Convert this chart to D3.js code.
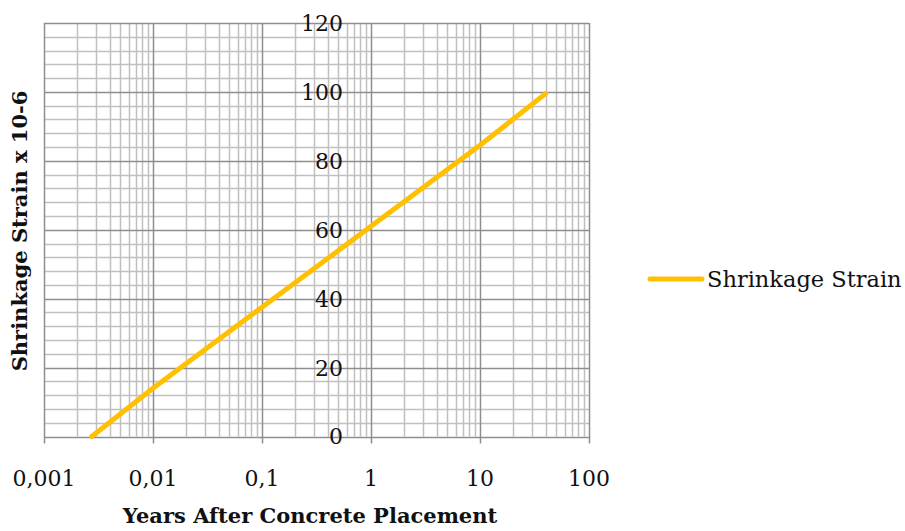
<!DOCTYPE html>
<html>
<head>
<meta charset="utf-8">
<script src="https://cdn.jsdelivr.net/npm/d3@7/dist/d3.min.js"></script>
<style>
  body { margin: 0; background: #fff; }
  svg { display: block; }
</style>
</head>
<body>
<svg id="chart" width="905" height="531"></svg>
<script>
// data
var years = [0.00274, 0.01, 0.1, 1, 10, 40];
var strain = [0, 14, 37.5, 61, 84.5, 99.5];
var seriesName = 'Shrinkage Strain';
var xTickValues = [0.001, 0.01, 0.1, 1, 10, 100];
var xTickLabels = ['0,001', '0,01', '0,1', '1', '10', '100'];
var yTickValues = [0, 20, 40, 60, 80, 100, 120];

var font = '"DejaVu Serif", "Liberation Serif", serif';
var svg = d3.select('#chart');

var x = d3.scaleLog().domain([0.001, 100]).range([44, 589]);
var y = d3.scaleLinear().domain([0, 120]).range([436.5, 23]);

// vertical grid: minor then major
var xAll = x.ticks();
var g = svg.append('g');
g.selectAll('line.xminor')
	.data(xAll.filter(function(d) { return xTickValues.indexOf(d) < 0; }))
	.enter().append('line')
	.attr('x1', function(d) { return Math.round(x(d)) + 0.5; })
	.attr('x2', function(d) { return Math.round(x(d)) + 0.5; })
	.attr('y1', y(120)).attr('y2', y(0))
	.attr('stroke', '#c0c0c0').attr('stroke-width', 1.5);

// horizontal grid minor every 4
g.selectAll('line.yminor')
	.data(d3.range(0, 121, 4).filter(function(d) { return d % 20 !== 0; }))
	.enter().append('line')
	.attr('x1', x(0.001)).attr('x2', x(100))
	.attr('y1', function(d) { return Math.round(y(d)) + 0.5; })
	.attr('y2', function(d) { return Math.round(y(d)) + 0.5; })
	.attr('stroke', '#c0c0c0').attr('stroke-width', 1.5);

g.selectAll('line.ymajor')
	.data(yTickValues)
	.enter().append('line')
	.attr('x1', x(0.001)).attr('x2', x(100))
	.attr('y1', function(d) { return Math.round(y(d)) + 0.5; })
	.attr('y2', function(d) { return Math.round(y(d)) + 0.5; })
	.attr('stroke', '#8e8e8e').attr('stroke-width', 1.5);

g.selectAll('line.xmajor')
	.data(xTickValues)
	.enter().append('line')
	.attr('x1', function(d) { return Math.round(x(d)) + 0.5; })
	.attr('x2', function(d) { return Math.round(x(d)) + 0.5; })
	.attr('y1', y(120)).attr('y2', y(0) + 7)
	.attr('stroke', '#8e8e8e').attr('stroke-width', 1.5);

// x tick labels
svg.selectAll('text.xlab')
	.data(xTickValues)
	.enter().append('text')
	.attr('x', function(d) { return x(d); })
	.attr('y', 486)
	.attr('text-anchor', 'middle')
	.attr('font-family', font)
	.attr('font-size', 22)
	.attr('fill', '#111')
	.text(function(d, i) { return xTickLabels[i]; });

// y tick labels, axis crosses at x = 1
svg.selectAll('text.ylab')
	.data(yTickValues)
	.enter().append('text')
	.attr('x', x(1) - 28)
	.attr('y', function(d) { return y(d); })
	.attr('dy', '0.36em')
	.attr('text-anchor', 'end')
	.attr('font-family', font)
	.attr('font-size', 22)
	.attr('fill', '#111')
	.text(function(d) { return d; });

// series
var line = d3.line()
	.x(function(d, i) { return x(years[i]); })
	.y(function(d, i) { return y(strain[i]); });
svg.append('path')
	.attr('d', line(strain))
	.attr('fill', 'none')
	.attr('stroke', '#FFC000')
	.attr('stroke-width', 5)
	.attr('stroke-linecap', 'round')
	.attr('stroke-linejoin', 'round');

// axis titles
svg.append('text')
	.attr('x', 310).attr('y', 523)
	.attr('text-anchor', 'middle')
	.attr('font-family', font)
	.attr('font-weight', 'bold')
	.attr('font-size', 21)
	.attr('fill', '#111')
	.text('Years After Concrete Placement');

svg.append('text')
	.attr('transform', 'translate(27,231) rotate(-90)')
	.attr('text-anchor', 'middle')
	.attr('font-family', font)
	.attr('font-weight', 'bold')
	.attr('font-size', 21)
	.attr('fill', '#111')
	.text('Shrinkage Strain x 10-6');

// legend
svg.append('line')
	.attr('x1', 650).attr('x2', 702)
	.attr('y1', 279).attr('y2', 279)
	.attr('stroke', '#FFC000')
	.attr('stroke-width', 5)
	.attr('stroke-linecap', 'round');
svg.append('text')
	.attr('x', 707).attr('y', 287)
	.attr('font-family', font)
	.attr('font-size', 22.5)
	.attr('fill', '#111')
	.text(seriesName);
</script>
</body>
</html>
